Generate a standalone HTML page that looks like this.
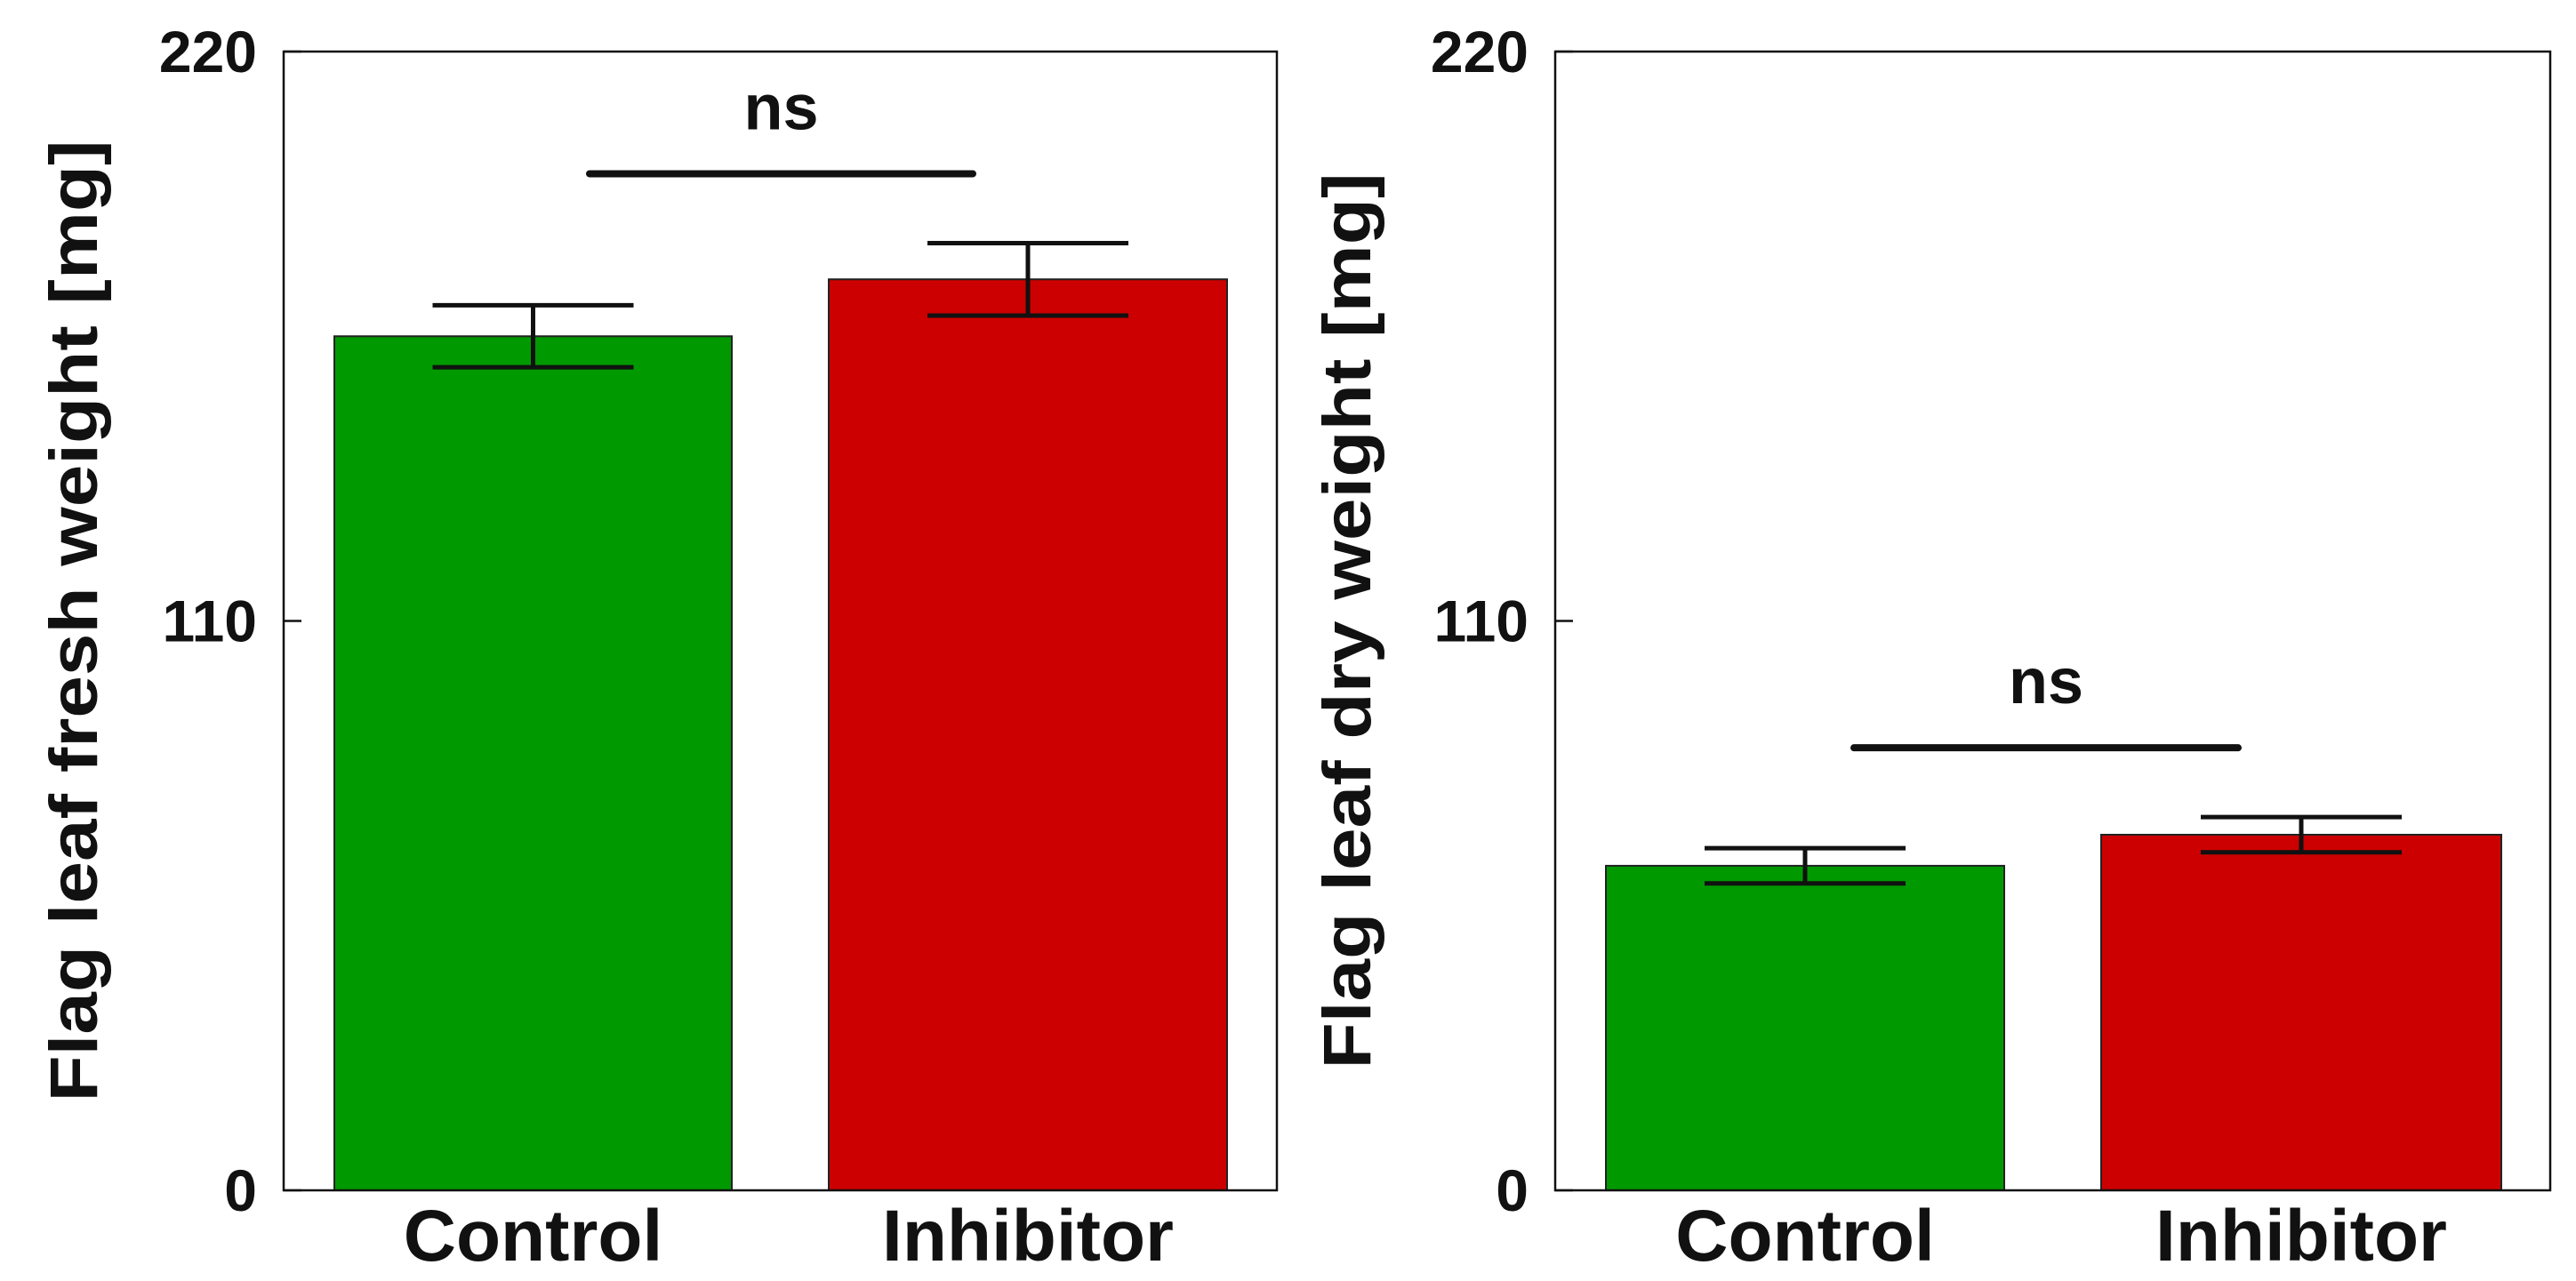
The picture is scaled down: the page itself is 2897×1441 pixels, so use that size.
<!DOCTYPE html>
<html><head><meta charset="utf-8"><style>
html,body{margin:0;padding:0;background:#fff;}
svg{display:block;font-family:"Liberation Sans",sans-serif;font-weight:bold;}
</style></head><body>
<svg id="chart" width="2897" height="1441" viewBox="0 0 2897 1441" xmlns="http://www.w3.org/2000/svg"></svg>
<script>
const categories = ["Control", "Inhibitor"];
const freshValues = [165, 176];
const freshErrors = [6, 7];
const dryValues = [62.7, 68.7];
const dryErrors = [3.4, 3.4];
const tickValues = [0, 110, 220];
const tickLabels = ["0", "110", "220"];
const colors = ["#009900", "#cc0000"];

const NS = "http://www.w3.org/2000/svg";
const svg = document.getElementById("chart");
function mk(tag, attrs, parent) {
  const e = document.createElementNS(NS, tag);
  for (const k in attrs) e.setAttribute(k, attrs[k]);
  (parent || svg).appendChild(e);
  return e;
}

const panels = [
  {key:"fresh", x0:319, x1:1436, title:"Flag leaf fresh weight [mg]", titleX:83, titleLen:1082, values:freshValues, errors:freshErrors, bars:[[376,823],[932,1380]], sig:[663,1094]},
  {key:"dry", x0:1749, x1:2868, title:"Flag leaf dry weight [mg]", titleX:1515, titleLen:1008, values:dryValues, errors:dryErrors, bars:[[1806,2254],[2363,2813]], sig:[2085,2517]}
];
const yTop = 58, yBot = 1339, yMax = 220;
function yScale(v){ return yBot - (v / yMax) * (yBot - yTop); }

panels.forEach(p => {
  const g = mk("g", {});
  
  
  p.values.forEach((v, i) => {
    const [bx0, bx1] = p.bars[i];
    const r = mk("rect", {x:bx0, y:yScale(v), width:bx1-bx0, height:yBot-yScale(v), fill:colors[i], stroke:"#222", "stroke-width":2}, g);
    
    
    const cx = (bx0 + bx1) / 2, e = p.errors[i];
    const eg = mk("g", {stroke:"#111", "stroke-width":5}, g);
    
    
    mk("line", {x1:cx, x2:cx, y1:yScale(v+e), y2:yScale(v-e)}, eg);
    mk("line", {x1:cx-113, x2:cx+113, y1:yScale(v+e), y2:yScale(v+e)}, eg);
    mk("line", {x1:cx-113, x2:cx+113, y1:yScale(v-e), y2:yScale(v-e)}, eg);
    const lt = mk("text", {x:cx, y:1418, "text-anchor":"middle", "font-size":82, fill:"#111"}, g);
    lt.textContent = categories[i];
    
    
  });
  const fr = mk("rect", {x:p.x0, y:yTop, width:p.x1-p.x0, height:yBot-yTop, fill:"none", stroke:"#111", "stroke-width":2.5}, g);
  
  
  tickValues.forEach((t, i) => {
    const y = yScale(t);
    const tl = mk("line", {x1:p.x0, x2:p.x0+20, y1:y, y2:y, stroke:"#111", "stroke-width":2.5}, g);
    
    
    const tx = mk("text", {x:p.x0-30, y:y+23, "text-anchor":"end", "font-size":66, fill:"#111"}, g);
    tx.textContent = tickLabels[i];
    
    
  });
  const tt = mk("text", {x:0, y:0, transform:`translate(${p.titleX + 26},${(yTop+yBot)/2}) rotate(-90)`, "text-anchor":"middle", "font-size":76, fill:"#111", textLength:p.titleLen, lengthAdjust:"spacingAndGlyphs"}, g);
  tt.textContent = p.title;
  
  
  const top = Math.max(p.values[0]+p.errors[0], p.values[1]+p.errors[1]);
  const sy = yScale(top) - 78;
  const sl = mk("line", {x1:p.sig[0], x2:p.sig[1], y1:sy, y2:sy, stroke:"#111", "stroke-width":8, "stroke-linecap":"round"}, g);
  
  
  const st = mk("text", {x:(p.sig[0]+p.sig[1])/2, y:sy-50, "text-anchor":"middle", "font-size":72, fill:"#111"}, g);
  st.textContent = "ns";
  
  
});
</script>
</body></html>
